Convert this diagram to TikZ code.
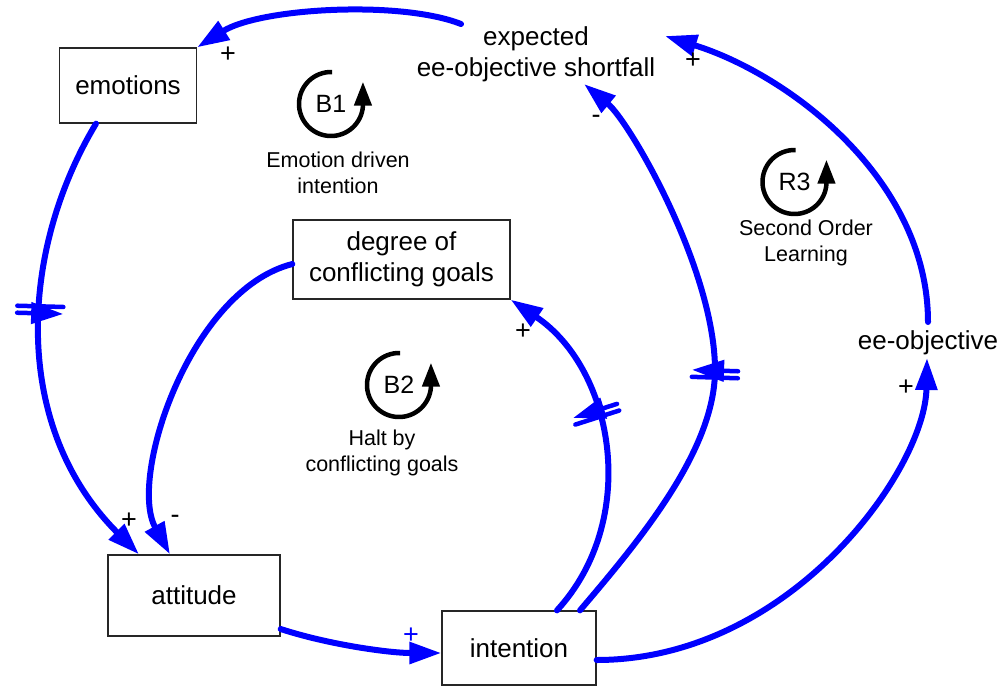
\documentclass[tikz,border=0pt]{standalone}
\usepackage{fontspec}
\setmainfont{Liberation Sans}
\usetikzlibrary{arrows.meta,decorations.markings}

\definecolor{linkblue}{RGB}{0,0,255}

\tikzset{
  box/.style={draw=black!85, line width=1.3pt, inner sep=0pt, align=center,
    font=\fontsize{26pt}{30.5pt}\selectfont},
  txt/.style={inner sep=0pt, align=center, font=\fontsize{26pt}{30.5pt}\selectfont},
  looptxt/.style={inner sep=0pt, font=\fontsize{25pt}{29pt}\selectfont},
  loopname/.style={inner sep=0pt, align=center, font=\fontsize{21.5pt}{26pt}\selectfont},
  sign/.style={inner sep=0pt, font=\fontsize{27pt}{30pt}\selectfont},
  link/.style={draw=linkblue, line width=6pt, line cap=round,
    -{Triangle[length=32pt,width=21pt]}},
  loopsym/.style={draw=black, line width=4.5pt,
    -{Triangle[length=24pt,width=17pt]}},
  delaymark/.style={postaction={decorate, decoration={markings,
    mark=at position #1 with {
      \draw[linkblue, line width=4.5pt, line cap=round]
        (-3.5pt,-23pt) -- (-3.5pt,23pt) (3.5pt,-23pt) -- (3.5pt,23pt);}}}}
}

\begin{document}
\begin{tikzpicture}[x=1pt, y=-1pt]
  \useasboundingbox (0,0) rectangle (1002,686);

  % variables
  \node[box, minimum width=137pt, minimum height=75pt] (emo) at (128,85.5) {emotions};
  \node[box, minimum width=217pt, minimum height=79pt] (deg) at (401.5,259.5) {degree of\\conflicting goals};
  \node[box, minimum width=172pt, minimum height=81pt] (att) at (194,595.5) {attitude};
  \node[box, minimum width=154pt, minimum height=74pt] (int) at (519,648) {intention};
  \node[txt] (sf) at (536,54.5) {expected\\ee-objective shortfall};
  \node[txt] (eeo) at (928,343) {ee-objective};

  % causal links
  \draw[link] ([shift={(-75,-30.5)}]sf.center) .. controls (400,0) and (260,8) .. (emo.north east);
  \draw[link, delaymark=0.42] ([shift={(-32,0)}]emo.south) .. controls (20,250) and (10,425) .. ([shift={(-55,0)}]att.north);
  \draw[link] ([shift={(0,4.5)}]deg.west) .. controls (190,290) and (128,478) .. ([shift={(-24,0)}]att.north);
  \draw[link] ([shift={(0,33.5)}]att.east) .. controls (330,645) and (390,653) .. ([shift={(0,5)}]int.west);
  \draw[link, delaymark=0.59] ([shift={(38,0)}]int.north) .. controls (640,520) and (615,370) .. (deg.south east);
  \draw[link, delaymark=0.46] ([shift={(61,0)}]int.north) .. controls (640,540) and (715,450) .. (715,370)
    .. controls (715,270) and (630,122) .. ([shift={(48,29.5)}]sf.center);
  \draw[link] ([shift={(0,12)}]int.east) .. controls (790,660) and (925,470) .. ([shift={(-1,15)}]eeo.center);
  \draw[link] ([shift={(0,-21)}]eeo.center) .. controls (928,180) and (790,75) .. ([shift={(129,-18.5)}]sf.center);

  % polarities
  \node[sign] (p1) at (228,55) {+};
  \node[sign] (p2) at (129,521) {+};
  \node[sign] (p3) at (175,519) {-};
  \node[sign, text=linkblue] (p4) at (411,636) {+};
  \node[sign] (p5) at (523,332) {+};
  \node[sign] (p6) at (596,119) {-};
  \node[sign] (p7) at (906,388) {+};
  \node[sign] (p8) at (693,61) {+};

  % loop identifiers
  \node[looptxt] (b1) at (331,104) {B1};
  \draw[loopsym] ([shift={(88:32pt)}]b1.center) arc[start angle=88, end angle=357, radius=32pt] -- ++(0pt,24pt);
  \node[loopname] (b1n) at (338,173) {Emotion driven\\intention};

  \node[looptxt] (b2) at (399,385) {B2};
  \draw[loopsym] ([shift={(88:32pt)}]b2.center) arc[start angle=88, end angle=357, radius=32pt] -- ++(0pt,24pt);
  \node[loopname] (b2n) at (382,453) {Halt by\\conflicting goals};

  \node[looptxt] (r3) at (794.5,182) {R3};
  \draw[loopsym] ([shift={(88:32pt)}]r3.center) arc[start angle=88, end angle=357, radius=32pt] -- ++(0pt,24pt);
  \node[loopname] (r3n) at (806,243) {Second Order\\Learning};
\end{tikzpicture}
\end{document}
